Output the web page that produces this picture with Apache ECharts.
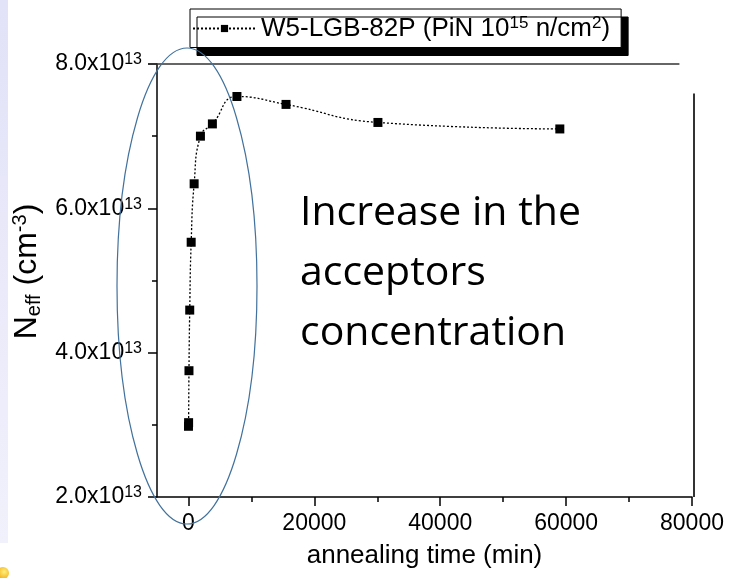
<!DOCTYPE html>
<html><head><meta charset="utf-8">
<script src="https://cdn.jsdelivr.net/npm/echarts@6/dist/echarts.min.js"></script>
<style>html,body{margin:0;padding:0;background:#fff}#c{width:733px;height:578px}</style>
</head><body><div id="c"></div>
<script>
const seriesName = 'W5-LGB-82P (PiN 10^15 n/cm^2)';
const annealTime = [0, 20, 80, 200, 430, 900, 1900, 3800, 7700, 15500, 30100, 59000];
const neff = [2.98e13, 3.03e13, 3.75e13, 4.59e13, 5.53e13, 6.34e13, 7.00e13, 7.17e13, 7.55e13, 7.44e13, 7.19e13, 7.10e13];
const xMajorTicks = [0, 20000, 40000, 60000, 80000];
const xMinorTicks = [10000, 30000, 50000, 70000];
const yMin = 2e13, yMax = 8e13, yStep = 2e13;
const xMin = -5000, xMax = 80000;
const annotationLines = ['Increase in the', 'acceptors', 'concentration'];

const FONT = '"Liberation Sans", Arial, sans-serif';
const chart = echarts.init(document.getElementById('c'), null, {renderer: 'canvas'});
const data = annealTime.map((t, i) => [t, neff[i]]);

const option = {
  animation: false,
  backgroundColor: '#fff',
  textStyle: {fontFamily: FONT, color: '#000'},
  grid: {left: 157, right: 41, top: 64, bottom: 81, containLabel: false},
  legend: {
    show: true, left: 190, top: 9,
    padding: [6, 11, 6, 2],
    itemWidth: 63, itemHeight: 9, itemGap: 5,
    borderColor: '#000', borderWidth: 1, backgroundColor: '#fff',
    shadowColor: '#000', shadowBlur: 0, shadowOffsetX: 7, shadowOffsetY: 8,
    data: [seriesName],
    formatter: () => '{b|W5-LGB-82P (PiN 10}{s|15}{b| n/cm}{s|2}{b|)}',
    textStyle: {
      fontFamily: FONT, color: '#000',
      rich: {
        b: {fontSize: 26, fontFamily: FONT, color: '#000', lineHeight: 27},
        s: {fontSize: 17, fontFamily: FONT, color: '#000', verticalAlign: 'top', lineHeight: 16}
      }
    }
  },
  xAxis: [{
    type: 'value', min: xMin, max: xMax, position: 'bottom',
    axisLine: {show: true, onZero: false, lineStyle: {color: '#000', width: 1.5}},
    axisTick: {show: true, inside: false, length: 9, customValues: xMajorTicks, lineStyle: {color: '#000', width: 1.5}},
    axisLabel: {show: true, customValues: xMajorTicks, margin: 15, fontSize: 23, fontFamily: FONT, color: '#000',
      formatter: v => String(v)},
    splitLine: {show: false},
    name: 'annealing time (min)', nameLocation: 'middle', nameGap: 46,
    nameTextStyle: {fontSize: 26, fontFamily: FONT, color: '#000'}
  }, {
    type: 'value', min: xMin, max: xMax, position: 'bottom', gridIndex: 0,
    axisLine: {show: false, onZero: false},
    axisTick: {show: true, inside: false, length: 5, customValues: xMinorTicks, lineStyle: {color: '#000', width: 1.5}},
    axisLabel: {show: false},
    splitLine: {show: false}
  }],
  yAxis: {
    type: 'value', min: yMin, max: yMax, interval: yStep,
    axisLine: {show: true, onZero: false, lineStyle: {color: '#000', width: 1.5}},
    axisTick: {show: true, inside: false, length: 9, lineStyle: {color: '#000', width: 1.5}},
    minorTick: {show: true, splitNumber: 2, length: 5, lineStyle: {color: '#000', width: 1.5}},
    splitLine: {show: false},
    axisLabel: {
      margin: 15,
      formatter: v => '{b|' + (v / 1e13).toFixed(1) + 'x10}{s|13}',
      rich: {
        b: {fontSize: 23, fontFamily: FONT, color: '#000', lineHeight: 24},
        s: {fontSize: 16, fontFamily: FONT, color: '#000', verticalAlign: 'top', lineHeight: 14}
      }
    },
    name: '{n|N}{sub|eff}{n| (cm}{sup|-3}{n|)}', nameLocation: 'middle', nameGap: 110, nameRotate: 90,
    nameTextStyle: {
      padding: [0, 0, 0, 18],
      rich: {
        n: {fontSize: 32, fontFamily: FONT, color: '#000', lineHeight: 34},
        sub: {fontSize: 20, fontFamily: FONT, color: '#000', verticalAlign: 'bottom', lineHeight: 17},
        sup: {fontSize: 20, fontFamily: FONT, color: '#000', verticalAlign: 'top', lineHeight: 21}
      }
    }
  },
  series: [{
    name: seriesName, type: 'line', xAxisIndex: 0, data: data,
    smooth: 0.5, symbol: 'rect', symbolSize: 9,
    itemStyle: {color: '#000'},
    lineStyle: {color: '#000', width: 1.3, type: [2, 2]},
    z: 5
  }]
};
chart.setOption(option);

// decorative / annotation overlays
const p = (x, y) => chart.convertToPixel({gridIndex: 0}, [x, y]);
const topLeft = p(xMin, yMax), bottomRight = p(xMax, yMin);
const frameEnd = p(78000, yMax);
const rightTop = p(xMax, 7.59e13);
const txtEls = annotationLines.map((t, i) => ({
  type: 'text', z: 20,
  style: {text: t, x: 300, y: 213 + i * 60.3, font: '41px "Open Sans", sans-serif', fill: '#000', textVerticalAlign: 'middle', verticalAlign: 'middle'}
}));
chart.setOption({
  graphic: [
    {type: 'rect', z: -1, shape: {x: 0, y: 0, width: 8, height: 543},
     style: {fill: new echarts.graphic.LinearGradient(0, 0, 0, 1, [{offset: 0, color: '#E2E2F8'}, {offset: 1, color: '#F1F1FC'}])}},
    {type: 'circle', z: 1, shape: {cx: 3, cy: 573, r: 6},
     style: {fill: new echarts.graphic.RadialGradient(0.6, 0.4, 0.8, [{offset: 0, color: '#FFF07A'}, {offset: 1, color: '#F0A000'}])}},
    {type: 'line', z: 3, shape: {x1: topLeft[0] - 9, y1: topLeft[1], x2: frameEnd[0], y2: topLeft[1]},
     style: {stroke: '#333', lineWidth: 1.7}},
    {type: 'line', z: 3, shape: {x1: bottomRight[0] + 2, y1: rightTop[1], x2: bottomRight[0] + 2, y2: bottomRight[1]},
     style: {stroke: '#333', lineWidth: 2}},
    {type: 'ellipse', z: 10, shape: {cx: 187, cy: 286, rx: 70, ry: 238},
     style: {fill: 'none', stroke: '#41719C', lineWidth: 1.2}},
    ...txtEls
  ]
});
</script></body></html>
